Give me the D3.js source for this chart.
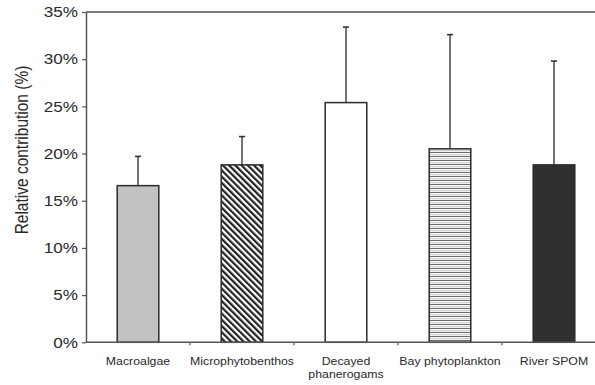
<!DOCTYPE html>
<html>
<head>
<meta charset="utf-8">
<script src="https://cdn.jsdelivr.net/npm/d3@7"></script>
<style>
  html, body { margin: 0; padding: 0; background: #fff; }
  svg { display: block; font-family: "Liberation Sans", Arial, Helvetica, sans-serif; }
</style>
</head>
<body>
<svg id="chart" width="595" height="385"></svg>
<script>
// Source contributions (mean %) with upper standard deviation
const categories = ["Macroalgae", "Microphytobenthos", "Decayed phanerogams", "Bay phytoplankton", "River SPOM"];
const labelLines = [["Macroalgae"], ["Microphytobenthos"], ["Decayed", "phanerogams"], ["Bay phytoplankton"], ["River SPOM"]];
const means = [16.6, 18.8, 25.4, 20.5, 18.8];
const errors = [3.1, 3.0, 8.0, 12.1, 11.0];
const fills = ["#c2c2c2", "url(#diag)", "#ffffff", "url(#hstripe)", "#303030"];
const yTicks = [0, 5, 10, 15, 20, 25, 30, 35];

(function () {
  const plotLeft = 86, plotTop = 12, plotBottom = 342.3, plotRight = 606;
  const sx = 1.14; // horizontal glyph stretch of the type

  const svg = d3.select("#chart");
  const defs = svg.append("defs");

  // Diagonal hatching (\\\) for microphytobenthos
  const diag = defs.append("pattern")
    .attr("id", "diag").attr("patternUnits", "userSpaceOnUse")
    .attr("width", 4.4).attr("height", 4.4)
    .attr("patternTransform", "rotate(-45)");
  diag.append("rect").attr("width", 4.4).attr("height", 4.4).attr("fill", "#fff");
  diag.append("rect").attr("width", 2.2).attr("height", 4.4).attr("fill", "#222");

  // Horizontal line fill for bay phytoplankton
  const hs = defs.append("pattern")
    .attr("id", "hstripe").attr("patternUnits", "userSpaceOnUse")
    .attr("width", 10).attr("height", 4);
  hs.append("rect").attr("width", 10).attr("height", 4).attr("fill", "#d0d0d0");
  hs.append("rect").attr("y", 0).attr("width", 10).attr("height", 1).attr("fill", "#6a6a6a");
  hs.append("rect").attr("y", 1).attr("width", 10).attr("height", 1).attr("fill", "#ffffff");
  hs.append("rect").attr("y", 3).attr("width", 10).attr("height", 1).attr("fill", "#f2f2f2");

  const x = d3.scaleBand().domain(categories).range([plotLeft, plotRight])
    .paddingInner(0.6).paddingOuter(0.3);
  const y = d3.scaleLinear().domain([0, 35]).range([plotBottom, plotTop]);

  const axisColor = "#555";

  // Top frame line
  svg.append("line")
    .attr("x1", plotLeft).attr("x2", plotRight)
    .attr("y1", y(35)).attr("y2", y(35))
    .attr("stroke", axisColor).attr("stroke-width", 1.5);

  // Error bars (upper only)
  const eb = svg.append("g");
  categories.forEach((c, i) => {
    const cx = x(c) + x.bandwidth() / 2;
    eb.append("line")
      .attr("x1", cx).attr("x2", cx)
      .attr("y1", y(means[i])).attr("y2", y(means[i] + errors[i]))
      .attr("stroke", "#666").attr("stroke-width", 1.8);
    eb.append("line")
      .attr("x1", cx - 3).attr("x2", cx + 3)
      .attr("y1", y(means[i] + errors[i])).attr("y2", y(means[i] + errors[i]))
      .attr("stroke", "#333").attr("stroke-width", 1.6);
  });

  // Bars
  svg.append("g").selectAll("rect")
    .data(categories)
    .join("rect")
    .attr("x", d => x(d))
    .attr("width", x.bandwidth())
    .attr("y", (d, i) => y(means[i]))
    .attr("height", (d, i) => y(0) - y(means[i]))
    .attr("fill", (d, i) => fills[i])
    .attr("stroke", "#2a2a2a")
    .attr("stroke-width", 1.5);

  // Y axis
  const yAxis = svg.append("g")
    .attr("transform", `translate(${plotLeft},0)`)
    .call(d3.axisLeft(y).tickValues(yTicks).tickFormat(d => d + "%").tickSize(4).tickSizeOuter(0));
  yAxis.select(".domain").attr("stroke", axisColor).attr("stroke-width", 1.5);
  yAxis.selectAll(".tick line").attr("stroke", axisColor).attr("stroke-width", 1.2);
  yAxis.selectAll(".tick text")
    .attr("x", -8 / sx)
    .attr("transform", `scale(${sx},1)`)
    .attr("font-family", "Liberation Sans, Arial, sans-serif")
    .attr("font-size", 15)
    .attr("fill", "#2a2a2a");

  // X axis line with ticks between categories
  svg.append("line")
    .attr("x1", plotLeft).attr("x2", plotRight)
    .attr("y1", plotBottom).attr("y2", plotBottom)
    .attr("stroke", axisColor).attr("stroke-width", 1.5);
  const step = x.step();
  categories.slice(0, -1).forEach(c => {
    const tx = x(c) + x.bandwidth() + (step - x.bandwidth()) / 2;
    svg.append("line")
      .attr("x1", tx).attr("x2", tx)
      .attr("y1", plotBottom).attr("y2", plotBottom + 3)
      .attr("stroke", axisColor).attr("stroke-width", 1.2);
  });

  // Category labels
  categories.forEach((c, i) => {
    const cx = x(c) + x.bandwidth() / 2;
    const t = svg.append("text")
      .attr("transform", `translate(${cx},365) scale(${sx},1)`)
      .attr("text-anchor", "middle")
      .attr("font-size", 10.8)
      .attr("fill", "#2a2a2a");
    labelLines[i].forEach((ln, j) => {
      t.append("tspan").attr("x", 0).attr("y", j * 13.5).text(ln);
    });
  });

  // Y axis title
  svg.append("text")
    .attr("transform", `translate(22,150) rotate(-90) scale(1,${sx})`)
    .attr("text-anchor", "middle")
    .attr("dy", "0.35em")
    .attr("font-size", 15.5)
    .attr("fill", "#2a2a2a")
    .text("Relative contribution (%)");
})();
</script>
</body>
</html>
